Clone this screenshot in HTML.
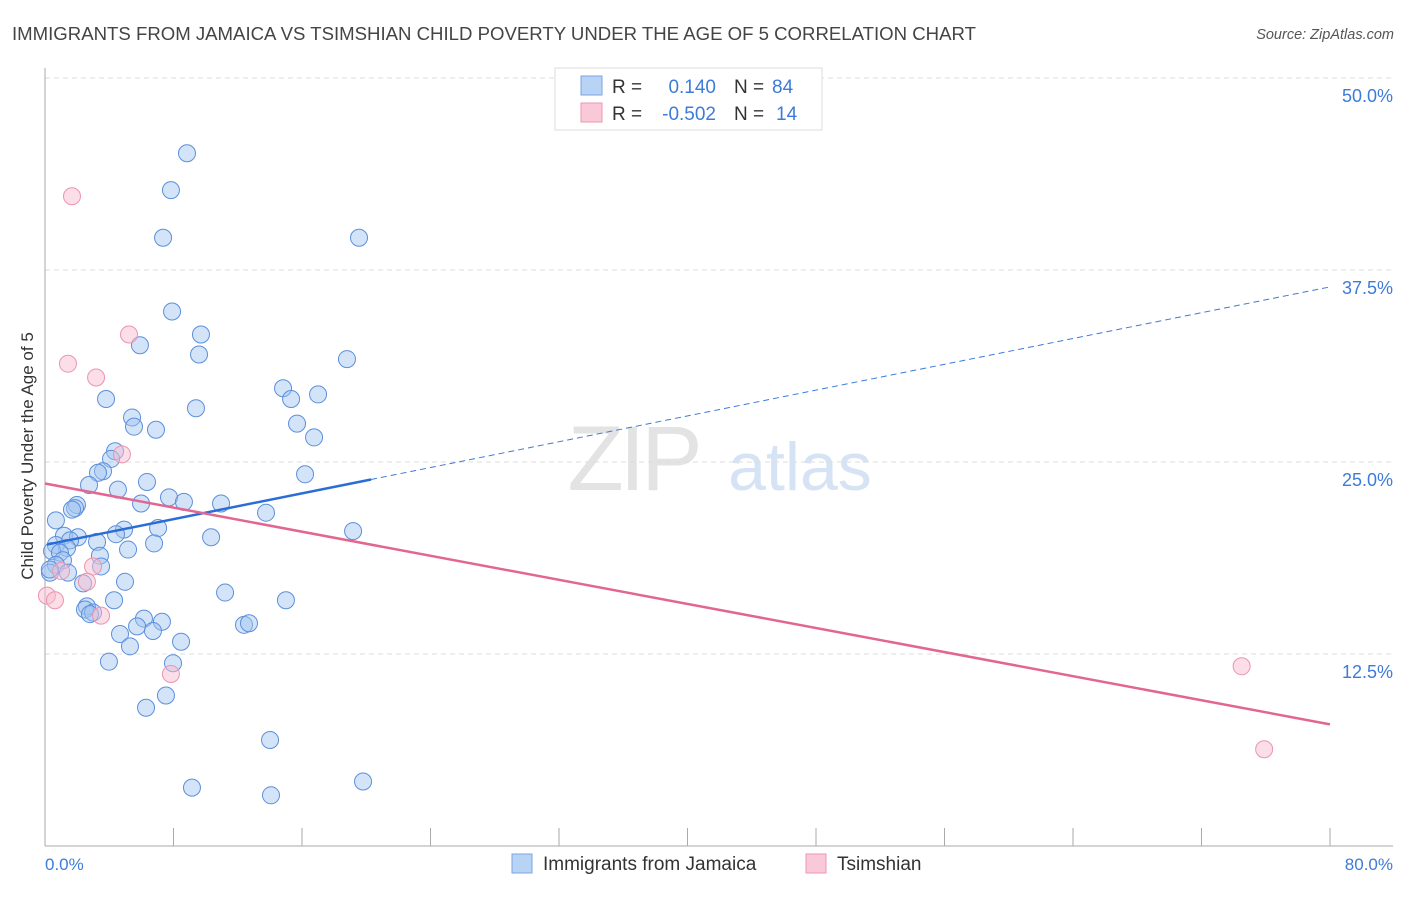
<!DOCTYPE html>
<html><head><meta charset="utf-8"><style>
body{margin:0;background:#fff;font-family:"Liberation Sans",sans-serif;}
svg text{font-family:"Liberation Sans",sans-serif;}
</style></head><body>
<svg id="chart" width="1406" height="892" xmlns="http://www.w3.org/2000/svg">
<text x="12" y="40" font-size="18.6" fill="#444">IMMIGRANTS FROM JAMAICA VS TSIMSHIAN CHILD POVERTY UNDER THE AGE OF 5 CORRELATION CHART</text>
<text x="1394" y="39" font-size="14.5" fill="#555" font-style="italic" text-anchor="end">Source: ZipAtlas.com</text>
<g>
<text x="633" y="490" font-size="92" fill="#e3e3e3" font-family="Liberation Serif" text-anchor="middle" letter-spacing="-4">ZIP</text>
<text x="800" y="490" font-size="68" fill="#d6e3f5" text-anchor="middle">atlas</text>
</g>
<g id="grid"></g>
<g id="axes"></g>
<g id="marks"></g>
<text transform="translate(33,456) rotate(-90)" font-size="17" fill="#333" text-anchor="middle">Child Poverty Under the Age of 5</text>
<text x="45" y="870" font-size="17" fill="#3d7bd9">0.0%</text>
<text x="1393" y="870" font-size="17" fill="#3d7bd9" text-anchor="end">80.0%</text>
<g>
<rect x="555" y="68" width="267" height="62" fill="#fff" stroke="#ddd"/>
<rect x="581" y="76" width="21" height="19" fill="#b8d3f5" stroke="#7aa5e0"/>
<rect x="581" y="103" width="21" height="19" fill="#f9c9d8" stroke="#ec97b3"/>
<text x="612" y="93" font-size="19" fill="#333">R =</text>
<text x="716" y="93" font-size="19" fill="#3d7bd9" text-anchor="end">0.140</text>
<text x="734" y="93" font-size="19" fill="#333">N =</text>
<text x="772" y="93" font-size="19" fill="#3d7bd9">84</text>
<text x="612" y="120" font-size="19" fill="#333">R =</text>
<text x="716" y="120" font-size="19" fill="#3d7bd9" text-anchor="end">-0.502</text>
<text x="734" y="120" font-size="19" fill="#333">N =</text>
<text x="776" y="120" font-size="19" fill="#3d7bd9">14</text>
</g>
<g>
<rect x="512" y="854" width="20" height="19" fill="#b8d3f5" stroke="#7aa5e0"/>
<text x="543" y="870" font-size="19" fill="#333">Immigrants from Jamaica</text>
<rect x="806" y="854" width="20" height="19" fill="#f9c9d8" stroke="#ec97b3"/>
<text x="837" y="870" font-size="19" fill="#333">Tsimshian</text>
</g>
</svg>
<script>
const yTicks=[12.5,25,37.5,50];
const yTickLabels=["12.5%","25.0%","37.5%","50.0%"];
const xTicks=[0,8,16,24,32,40,48,56,64,72,80];
const jamX=[8.84,7.84,7.35,19.55,7.91,9.71,5.91,9.59,18.8,14.82,15.32,17.0,3.80,9.40,5.42,5.54,15.69,6.91,16.75,4.36,4.11,3.61,3.30,16.19,6.35,2.74,4.54,7.72,5.98,8.65,10.96,1.99,1.87,1.68,13.76,0.68,4.92,7.04,4.42,10.34,1.18,2.05,1.56,6.79,3.24,19.18,0.68,1.37,5.17,0.44,0.93,3.42,1.12,0.68,3.49,1.43,0.31,4.98,2.37,11.21,4.30,15.0,2.61,2.49,2.99,2.80,6.16,7.28,5.73,12.39,12.70,6.72,4.67,8.47,5.29,3.98,7.97,7.53,6.29,14.01,9.15,19.8,14.07,0.3];
const jamY=[45.1,42.7,39.6,39.6,34.8,33.3,32.6,32.0,31.7,29.8,29.1,29.4,29.1,28.5,27.9,27.3,27.5,27.1,26.6,25.7,25.2,24.4,24.3,24.2,23.7,23.5,23.2,22.7,22.3,22.4,22.3,22.2,22.0,21.9,21.7,21.2,20.6,20.7,20.3,20.1,20.2,20.1,19.9,19.7,19.8,20.5,19.6,19.4,19.3,19.2,19.1,18.9,18.6,18.3,18.2,17.8,17.8,17.2,17.1,16.5,16.0,16.0,15.6,15.4,15.2,15.1,14.8,14.6,14.3,14.4,14.5,14.0,13.8,13.3,13.0,12.0,11.9,9.8,9.0,6.9,3.8,4.2,3.3,18.0];
const tsiX=[1.68,5.23,1.43,3.18,4.79,1.0,2.99,2.61,0.12,0.62,3.49,7.84,74.5,75.9];
const tsiY=[42.3,33.3,31.4,30.5,25.5,17.9,18.2,17.2,16.3,16.0,15.0,11.2,11.7,6.3];
const jamTrend=[19.6,0.21];
const jamSolidEnd=20.3;
const tsiTrend=[23.6,-0.196];

const X=v=>45+v/80*1285;
const Y=v=>846-v*15.36;
const NS="http://www.w3.org/2000/svg";
function mk(parent,tag,attrs){const e=document.createElementNS(NS,tag);for(const k in attrs)e.setAttribute(k,attrs[k]);document.getElementById(parent).appendChild(e);return e;}

yTicks.forEach((t,i)=>{
  const g=mk('grid','line',{x1:45,x2:1393,y1:Y(t),y2:Y(t),stroke:'#ddd','stroke-dasharray':'5,4'});
  
  
  const l=mk('grid','text',{x:1393,y:Y(t)+24,'font-size':18,fill:'#3d7bd9','text-anchor':'end'});
  l.textContent=yTickLabels[i];
  
  
});
const ya=mk('axes','line',{x1:45,x2:45,y1:68,y2:846,stroke:'#aaa'});


const xa=mk('axes','line',{x1:45,x2:1393,y1:846,y2:846,stroke:'#aaa'});


xTicks.forEach(t=>{
  const k=mk('axes','line',{x1:X(t),x2:X(t),y1:828,y2:846,stroke:'#aaa'});
  
  
});
jamX.forEach((x,i)=>{
  const c=mk('marks','circle',{cx:X(x),cy:Y(jamY[i]),r:8.5,fill:'rgba(160,196,240,0.45)',stroke:'#5b8fdc','stroke-width':1});
  
  
});
tsiX.forEach((x,i)=>{
  const c=mk('marks','circle',{cx:X(x),cy:Y(tsiY[i]),r:8.5,fill:'rgba(248,190,208,0.5)',stroke:'#eb94b0','stroke-width':1});
  
  
});
const f=(t,x)=>t[0]+t[1]*x;
const jd=mk('marks','line',{x1:X(jamSolidEnd),y1:Y(f(jamTrend,jamSolidEnd)),x2:X(80),y2:Y(f(jamTrend,80)),stroke:'#3d7bd9','stroke-width':1,'stroke-dasharray':'6,4'});


const js=mk('marks','line',{x1:X(0.12),y1:Y(f(jamTrend,0.12)),x2:X(jamSolidEnd),y2:Y(f(jamTrend,jamSolidEnd)),stroke:'#2a6dd6','stroke-width':2.5});


const ts=mk('marks','line',{x1:X(0),y1:Y(f(tsiTrend,0)),x2:X(80),y2:Y(f(tsiTrend,80)),stroke:'#e2668f','stroke-width':2.5});


</script>
</body></html>
